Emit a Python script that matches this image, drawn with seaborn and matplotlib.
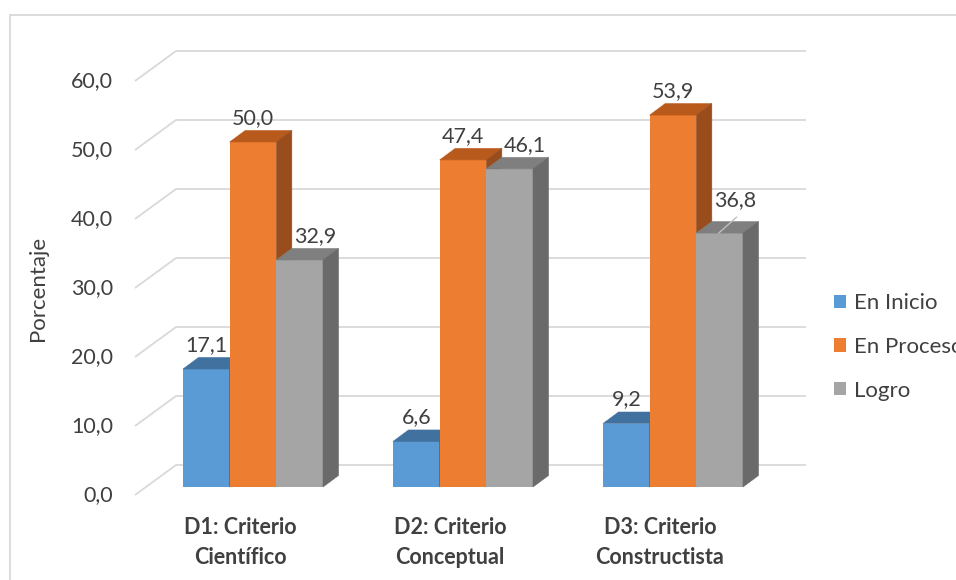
import numpy as np
import pandas as pd
import matplotlib
matplotlib.use("Agg")
import matplotlib.pyplot as plt
import seaborn as sns
from matplotlib.patches import Polygon, Patch
from matplotlib.lines import Line2D

# ---------------- data ----------------
categories = ["D1: Criterio\nCientífico", "D2: Criterio\nConceptual", "D3: Criterio\nConstructista"]
series = ["En Inicio", "En Proceso", "Logro"]
en_inicio = [17.1, 6.6, 9.2]
en_proceso = [50.0, 47.4, 53.9]
logro = [32.9, 46.1, 36.8]
y_ticks = [0, 10, 20, 30, 40, 50, 60]
y_tick_labels = ["0,0", "10,0", "20,0", "30,0", "40,0", "50,0", "60,0"]
y_title = "Porcentaje"

# ---------------- style ----------------
front_colors = {"En Inicio": "#5B9BD5", "En Proceso": "#ED7D31", "Logro": "#A5A5A5"}
top_colors = {"En Inicio": "#41729F", "En Proceso": "#B95A1D", "Logro": "#7F7F7F"}
side_colors = {"En Inicio": "#3A6690", "En Proceso": "#9A4D1C", "Logro": "#6A6A6A"}
TEXT = "#404040"
GRID = "#D9D9D9"
FS_NUM = 15.5
FS_TXT = 16

W, H = 956, 580
PX_X, X0 = 210.0, 253.0      # px per category, px of category 0 centre
PX_Y, Y0 = 6.9, 487.0        # px per unit, px of bar base (from top)
BAR_DX, BAR_DY = 15.5, 11.5  # bar depth in px
WALL_DX, WALL_DY = 31.0, 22.0  # bar base -> back wall offset in px
FRONT_DX, FRONT_DY = -10.0, -8.0  # bar base -> front plane offset in px
GRID_LEFT_PX, GRID_RIGHT_PX = 176, 806
TICK_RIGHT_PX = 113
LABEL_GAP_PX = 24
CAT_DX_PX = -13
CAT_LINE_PX = [528, 558]

sns.set_theme(style="white")
plt.rcParams["font.family"] = ["Lato", "DejaVu Sans"]

df = pd.DataFrame({
    "Categoria": categories * 3,
    "Serie": [s for s in series for _ in categories],
    "Porcentaje": en_inicio + en_proceso + logro,
})

fig = plt.figure(figsize=(W / 100, H / 100), dpi=100)
ax = fig.add_axes([0, 0, 1, 1])
sns.barplot(data=df, x="Categoria", y="Porcentaje", hue="Serie", order=categories,
            hue_order=series, palette=front_colors, width=2 / 3, saturation=1,
            linewidth=0, errorbar=None, legend=False, ax=ax)

ax.set_xlim((0 - X0) / PX_X, (W - X0) / PX_X)
ax.set_ylim((Y0 - H) / PX_Y, Y0 / PX_Y)
ax.axis("off")

def dx(px):
    return px / PX_X

def dy(px):
    return px / PX_Y

# ---- gridlines (back wall + front stubs) ----
x_back_left = (GRID_LEFT_PX - X0) / PX_X
x_front = x_back_left - dx(WALL_DX - FRONT_DX)
x_right = (GRID_RIGHT_PX - X0) / PX_X
for v in y_ticks:
    yb = v + dy(WALL_DY)
    yf = v + dy(FRONT_DY)
    ax.plot([x_front, x_back_left, x_right], [yf, yb, yb], color=GRID, lw=1.3,
            zorder=1, solid_capstyle="butt")

# ---- y tick labels ----
for v, lab in zip(y_ticks, y_tick_labels):
    ax.text((TICK_RIGHT_PX - X0) / PX_X, v + dy(FRONT_DY), lab, ha="right",
            va="center", fontsize=FS_NUM, color=TEXT)

# ---- 3D faces + value labels ----
bars = [p for p in ax.patches]
for p in bars:
    x0, w, h = p.get_x(), p.get_width(), p.get_height()
    c = x0 + w / 2
    idx = int(round((c - round(c)) / w)) + 1
    s = series[idx]
    z = 3 + idx
    p.set_zorder(z)
    top = Polygon([(x0, h), (x0 + w, h), (x0 + w + dx(BAR_DX), h + dy(BAR_DY)),
                   (x0 + dx(BAR_DX), h + dy(BAR_DY))], closed=True,
                  facecolor=top_colors[s], edgecolor=top_colors[s], lw=0.4, zorder=z + 0.5)
    side = Polygon([(x0 + w, 0), (x0 + w + dx(BAR_DX), dy(BAR_DY)),
                    (x0 + w + dx(BAR_DX), h + dy(BAR_DY)), (x0 + w, h)], closed=True,
                   facecolor=side_colors[s], edgecolor=side_colors[s], lw=0.4, zorder=z + 0.5)
    ax.add_patch(top)
    ax.add_patch(side)
    lx = c + (dx(BAR_DX) if s == "Logro" else 0)
    ly = h + dy(LABEL_GAP_PX)
    cat_i = int(round(c))
    if s == "Logro" and cat_i == 2:
        ly = h + dy(LABEL_GAP_PX + 9)
        ax.plot([c - dx(1), c + dx(17)], [h, h + dy(16)], color="#BFBFBF", lw=1, zorder=10)
    ax.text(lx, ly, f"{h:.1f}".replace(".", ","), ha="center", va="center",
            fontsize=FS_NUM, color=TEXT, zorder=11)

# ---- category labels ----
for i, cat in enumerate(categories):
    for line, ypx in zip(cat.split("\n"), CAT_LINE_PX):
        ax.text(i + dx(CAT_DX_PX), (Y0 - ypx) / PX_Y, line, ha="center", va="center",
                fontsize=FS_NUM, fontweight="bold", color=TEXT)

# ---- axis title ----
fig.text(38 / W, 1 - 288 / H, y_title, rotation=90, ha="center", va="center",
         fontsize=FS_TXT, color=TEXT)

# ---- legend ----
handles = [Patch(facecolor=front_colors[s], edgecolor="none", label=s) for s in series]
ax.legend(handles=handles, loc="center left", bbox_to_anchor=(834 / W, 1 - 347 / H),
          bbox_transform=fig.transFigure, frameon=False, fontsize=FS_TXT,
          handlelength=0.56, handleheight=0.56, handletextpad=0.33, labelspacing=1.06,
          borderpad=0, borderaxespad=0, labelcolor=TEXT)

# ---- chart frame ----
fig.add_artist(Line2D([10 / W, 10 / W], [0, 1 - 15 / H], transform=fig.transFigure,
                      color=GRID, lw=1.3))
fig.add_artist(Line2D([10 / W, 1], [1 - 15 / H, 1 - 15 / H], transform=fig.transFigure,
                      color=GRID, lw=1.3))

fig.savefig("out.png", dpi=100, facecolor="white")
